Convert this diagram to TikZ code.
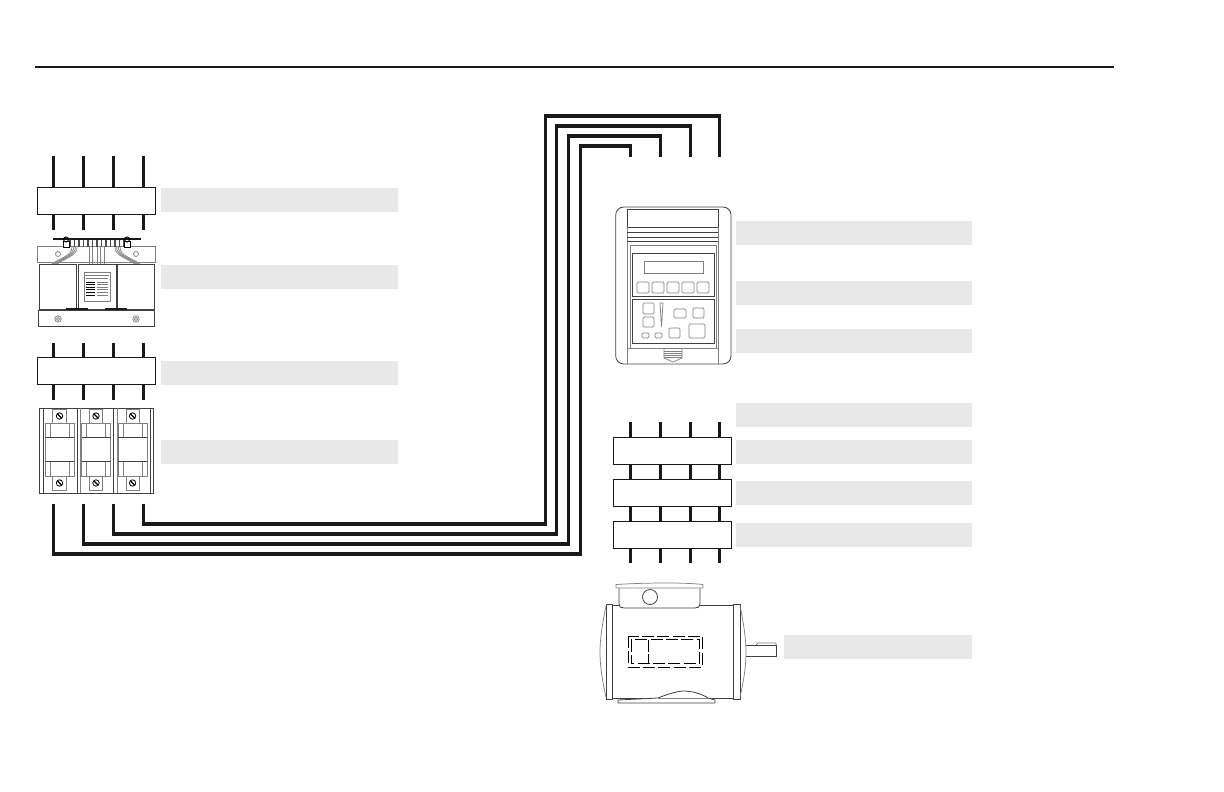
\documentclass[tikz,border=0pt]{standalone}
\usetikzlibrary{calc}
\definecolor{lab}{gray}{0.91}
\definecolor{gline}{gray}{0.5}
\tikzset{
  wire/.style={line width=2.4pt,black!90,line join=miter},
  bx/.style={draw=black!90,line width=.75pt,fill=white,inner sep=0pt,minimum width=88.5pt,minimum height=20.25pt},
  lablong/.style={fill=lab,draw=none,inner sep=0pt,minimum width=177.5pt,minimum height=18pt},
  labshort/.style={fill=lab,draw=none,inner sep=0pt,minimum width=141pt,minimum height=18pt},
  thin line/.style={draw=black!75,line width=.6pt},
  grey line/.style={draw=gline,line width=.55pt},
  dash box/.style={draw=black,line width=.7pt,dash pattern=on 9pt off 2.5pt}
}
\begin{document}
\begin{tikzpicture}[x=.75pt,y=-.75pt]
\useasboundingbox (0,0) rectangle (1224,792);
\coordinate (ruleL) at (35,67); \coordinate (ruleR) at (1114,67);
\draw[line width=1.1pt,black!90] (ruleL) -- (ruleR);

% grey label bars
\foreach \n/\y in {a/200,b/277,c/373,d/452}
  \node[lablong] (lab\n) at (279.5,\y) {};
\foreach \n/\y in {e/233,f/293,g/341,h/415,i/452,j/493,k/535}
  \node[lablong] (lab\n) at (854,\y) {};
\node[labshort] (labm) at (878,647) {};

% left boxes
\node[bx] (boxA) at (96,200.5) {};
\node[bx] (boxB) at (96,371) {};
% right boxes
\node[bx] (boxC) at (672.5,450.5) {};
\node[bx] (boxD) at (672.5,492.5) {};
\node[bx] (boxE) at (672.5,534.5) {};

% left wires
\foreach \i/\x in {1/53.5,2/83.5,3/113.5,4/143.5}{
  \coordinate (tA\i) at (\x,156);
  \coordinate (uA\i) at (\x,230);
  \coordinate (tB\i) at (\x,343);
  \coordinate (uB\i) at (\x,400);
  \draw[wire] (tA\i) -- (tA\i |- boxA.north);
  \draw[wire] (uA\i) -- (uA\i |- boxA.south);
  \draw[wire] (tB\i) -- (tB\i |- boxB.north);
  \draw[wire] (uB\i) -- (uB\i |- boxB.south);
}
% right wires
\foreach \i/\x in {1/630.5,2/660.5,3/690.5,4/719.5}{
  \coordinate (tC\i) at (\x,422);
  \coordinate (uE\i) at (\x,563);
  \draw[wire] (tC\i) -- (tC\i |- boxC.north);
  \draw[wire] (tC\i |- boxC.south) -- (tC\i |- boxD.north);
  \draw[wire] (tC\i |- boxD.south) -- (tC\i |- boxE.north);
  \draw[wire] (uE\i) -- (uE\i |- boxE.south);
}
% long routed wires
\coordinate (s4) at (143.5,504); \coordinate (e4) at (719.5,157);
\coordinate (s3) at (113.5,504); \coordinate (e3) at (690.5,157);
\coordinate (s2) at (83.5,504);  \coordinate (e2) at (660.5,157);
\coordinate (s1) at (53.5,504);  \coordinate (e1) at (630.5,157);
\draw[wire] (s4) |- (545.5,524) |- (e4 |- 0,116) -- (e4);
\draw[wire] (s3) |- (556.5,534) |- (e3 |- 0,126) -- (e3);
\draw[wire] (s2) |- (568.5,544) |- (e2 |- 0,136) -- (e2);
\draw[wire] (s1) |- (580.5,554) |- (e1 |- 0,146) -- (e1);

% transformer
\draw[grey line] (37,246) rectangle (155,262);
\foreach \x in {70,74.5,...,124}{ \draw[line width=.8pt,black!70] (\x,240) -- (\x,247); }
\foreach \k in {0,1.7,3.4,5.1}{
  \draw[grey line] (72+\k,247) .. controls (72+\k,256) and (60+\k,258) .. (52+\k,264);
  \draw[grey line] (120-\k,247) .. controls (120-\k,256) and (132-\k,258) .. (140-\k,264);
}
\foreach \x in {89,92,97,100,104}{ \draw[grey line] (\x,247) -- (\x,264); }
\draw[grey line] (58,254) circle (2.5);
\draw[grey line] (136,254) circle (2.5);
\draw[line width=1.1pt,black!90] (53,239) -- (141,239);
\foreach \x in {66,127}{
  \draw[black,line width=.7pt,fill=white] (\x-3,241) rectangle (\x+3,247);
  \draw[black,line width=.7pt] (\x,239.5) circle (2.5);
}
\foreach \a/\b in {39/76,78/116,117/154}{ \draw[thin line,fill=white] (\a,264) rectangle (\b,309); }
\draw[thin line,fill=white] (38,310) rectangle (154,326);
\foreach \a/\b in {66/88,105/127}{ \draw[line width=1.2pt,black!90] (\a,309.2) -- (\b,309.2); }
\foreach \x in {58,136}{
  \draw[grey line] (\x,319) circle (3.2);
  \draw[grey line] (\x,319) circle (1.6);
}
\draw[grey line] (84,272) rectangle (110,301);
\draw[grey line] (85,275) -- (109,275);
\foreach \y in {282,284.6,...,296}{
  \draw[black,line width=.7pt] (86,\y) -- (95,\y);
  \draw[grey line] (97,\y) -- (108,\y);
}
\draw[grey line] (86,278) -- (108,278);

% breaker
\draw[thin line] (39,408) rectangle (153,493);
\foreach \x in {43,77,113,150}{ \draw[thin line] (\x,408) -- (\x,493); }
\foreach \x in {80,117}{ \draw[grey line] (\x,408) -- (\x,493); }
\foreach \x in {59.5,96,132.6}{
  \draw[grey line,fill=white] (\x-6.7,409) rectangle (\x+6.7,423);
  \draw[grey line,fill=white] (\x-6.7,476) rectangle (\x+6.7,490);
  \draw[grey line,fill=white] (\x-14.5,423) rectangle (\x+14.5,476);
  \draw[grey line] (\x-9.5,423) -- (\x-9.5,437) (\x+9.5,423) -- (\x+9.5,437);
  \draw[grey line] (\x-9.5,462) -- (\x-9.5,476) (\x+9.5,462) -- (\x+9.5,476);
  \draw[thin line] (\x-14.5,437.5) -- (\x+14.5,437.5);
  \draw[thin line] (\x-14.5,461.5) -- (\x+14.5,461.5);
  \foreach \y in {416,483}{
    \draw[black,line width=.6pt] (\x,\y) circle (3.2);
    \draw[black,line width=.9pt] (\x-2,\y-2) -- (\x+2,\y+2);
  }
}

% drive
\draw[thin line,rounded corners=6pt] (615.7,207) rectangle (731,364);
\draw[thin line] (627,209) rectangle (718,227);
\draw[grey line] (627,227) -- (627,364) (718,227) -- (718,364);
\foreach \y in {232,237,241}{ \draw[thin line] (627,\y) -- (718,\y); }
\draw[grey line] (630,245) rectangle (716,348);
\draw[thin line] (632,253) rectangle (714,296);
\draw[grey line] (644,261) rectangle (703,273);
\foreach \a in {637,652,667,682,697}{ \draw[grey line,rounded corners=1pt] (\a,282) rectangle (\a+12,293); }
\draw[thin line] (632,299) rectangle (714,343);
\foreach \a/\b/\c/\d in {643/303/654/314,643/317/654/327,674/309/686/318,693/308/704/318,642/333/649/338,655/333/662/338,669/328/680/338,689/324/705/338}{
  \draw[grey line,rounded corners=1pt] (\a,\b) rectangle (\c,\d);
}
\draw[grey line] (660,303) -- (663,303) -- (661.5,327) -- cycle;
\draw[grey line] (627,348) -- (718,348);
\draw[grey line] (664,349) -- (664,358) -- (673,362) -- (682,358) -- (682,349);
\foreach \y in {351,353,355,357}{ \draw[grey line] (664,\y) -- (682,\y); }

% motor
\draw[thin line] (612,605) rectangle (733,698);
\draw[thin line,fill=white] (619,588) -- (619,604) .. controls (619,607) and (621,608) .. (624,608)
  -- (695,608) .. controls (698,608) and (700,607) .. (700,604) -- (700,588);
\draw[grey line,fill=white] (616,584.5) .. controls (640,583) and (680,582) .. (703,584.5) -- (703,588) -- (616,588) -- cycle;
\draw[thin line] (650,597) circle (7.5);
\draw[thin line,fill=white] (606,604) rectangle (612,699);
\draw[thin line,fill=white] (733,604) rectangle (740,699);
\draw[grey line] (606,606) .. controls (602,625) and (600,640) .. (600,652) .. controls (600,665) and (602,680) .. (606,697);
\draw[grey line] (740,606) .. controls (744,625) and (746,640) .. (746,652) .. controls (746,665) and (744,680) .. (740,697);
\draw[thin line] (746,645) -- (776,645) -- (776,656) -- (746,656);
\draw[grey line] (756,645) -- (758,643) -- (776,643) -- (776,645);
\draw[thin line,fill=white] (618,700) -- (658,698) .. controls (670,693) and (680,691) .. (684,691) .. controls (692,691) and (702,694) .. (708,698) -- (715,700) -- (715,703) -- (618,703) -- cycle;
\draw[grey line] (658,698) -- (708,698);
\draw[dash box] (628,636) rectangle (702,667);
\draw[dash box] (631,639.5) rectangle (699.5,663.5);
\draw[black,line width=.7pt,dash pattern=on 9pt off 2pt] (648,639.5) -- (648,663.5);
\end{tikzpicture}
\end{document}
